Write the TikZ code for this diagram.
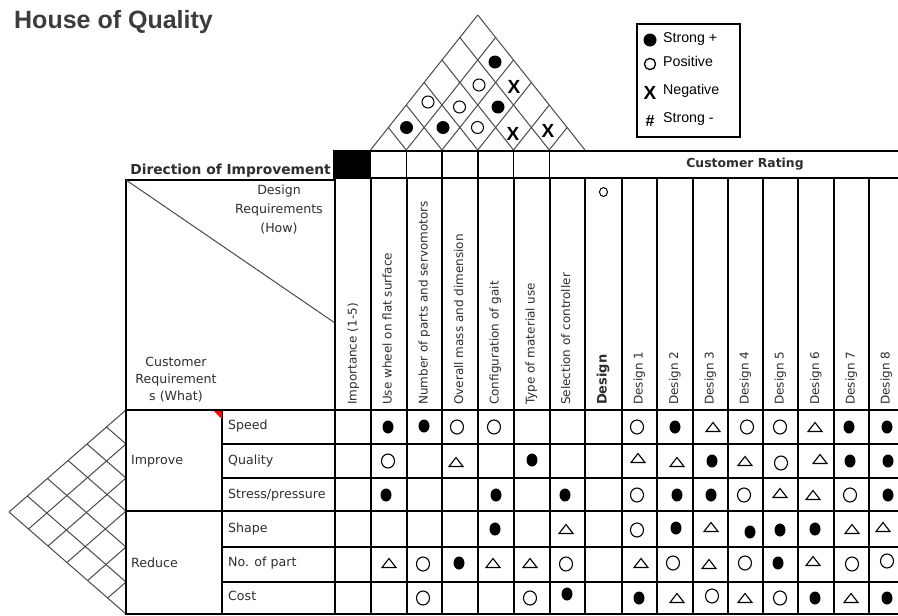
\documentclass[tikz,border=0pt]{standalone}
\usepackage{fontspec}
\setmainfont{DejaVu Sans}
\newfontfamily\arialf{Liberation Sans}
\definecolor{txt}{HTML}{2E2E2E}
\definecolor{ttl}{HTML}{3C3C3C}
\definecolor{roofc}{HTML}{4A4A4A}
\newcommand{\qF}[2]{\fill (#1,#2) ellipse [x radius=5.5pt, y radius=6.5pt];}
\newcommand{\qO}[2]{\draw[line width=1.1pt] (#1,#2) ellipse [x radius=6.5pt, y radius=7pt];}
\newcommand{\qT}[2]{\draw[line width=1.1pt, line join=miter, shift={(#1,#2)}] (-7,4.5) -- (7,4.5) -- (0,-4.5) -- cycle;}
\begin{document}
\begin{tikzpicture}[x=1pt,y=-1pt,
  roofline/.style={draw=roofc, line width=1pt},
  thickl/.style={line width=2pt},
  medl/.style={line width=1.5pt},
  thinl/.style={line width=1.1pt},
  lbl/.style={inner sep=0, font=\fontsize{12.6}{15}\selectfont, text=txt},
  rot/.style={rotate=90, anchor=mid west, inner sep=0, font=\fontsize{12}{14}\selectfont, text=txt},
  leg/.style={anchor=mid west, inner sep=0, font=\arialf\fontsize{14.2}{16}\selectfont, text=black}]
\useasboundingbox (0,0) rectangle (898,616);
\fill[white] (0,0) rectangle (898,616);

% title
\node[anchor=base west, inner sep=0, font=\arialf\bfseries\fontsize{25}{28}\selectfont, text=ttl] (title) at (14,28) {House of Quality};

% top roof
\foreach \k in {0,...,6} {
  \pgfmathsetmacro\xk{370.5+35.75*\k}
  \ifnum\k<6
    \draw[roofline] (\xk,150) -- ({(\xk+585)/2},{150-0.62935*(585-\xk)});
  \fi
  \ifnum\k>0
    \draw[roofline] (\xk,150) -- ({(370.5+\xk)/2},{150-0.62935*(\xk-370.5)});
  \fi
}
% roof symbols
\fill (406.5,127.5) circle [radius=6.5pt];
\fill (443,127.5) circle [radius=6.5pt];
\draw[line width=1pt] (477.5,127.5) circle [radius=6pt];
\node[inner sep=0, font=\arialf\bfseries\fontsize{19}{20}\selectfont] (x34) at (513,134) {X};
\node[inner sep=0, font=\arialf\bfseries\fontsize{19}{20}\selectfont] (x45) at (548,131) {X};
\draw[line width=1pt] (428,102) circle [radius=6pt];
\draw[line width=1pt] (459.5,107) circle [radius=6pt];
\fill (498,107) circle [radius=6.5pt];
\draw[line width=1pt] (479,85) circle [radius=6pt];
\node[inner sep=0, font=\arialf\bfseries\fontsize{19}{20}\selectfont] (x25) at (514,87) {X};
\fill (495,62) circle [radius=6.5pt];

% left roof
\foreach \yk in {410,444,478,511,547,582,614} {
  \draw[roofline] (126,\yk) -- ({126-0.57353*(614-\yk)},{(\yk+614)/2});
  \draw[roofline] (126,\yk) -- ({126-0.57353*(\yk-410)},{(\yk+410)/2});
}

% legend
\draw[line width=1.2pt] (637,24) rectangle (740,137);
\fill (650,40) circle [radius=6.5pt];
\node[leg] (l1) at (663,40) {Strong +};
\draw[line width=1.3pt] (650,64) circle [radius=5.6pt];
\node[leg] (l2) at (663,64) {Positive};
\node[inner sep=0, font=\arialf\bfseries\fontsize{19}{20}\selectfont] (lx) at (650,93) {X};
\node[leg] (l3) at (663,92) {Negative};
\node[inner sep=0, font=\arialf\bfseries\fontsize{16}{18}\selectfont] (lh) at (650,121) {\#};
\node[leg] (l4) at (663,120) {Strong -};

% header row
\fill (333,150) rectangle (371,178);
\draw[thickl] (333,151) -- (898,151);
\draw[thinl] (333,178) -- (898,178);
\foreach \x in {370.5,406.5,442,478,513.5,549.5} {\draw[medl] (\x,150) -- (\x,178);}
\node[anchor=base east, inner sep=0, font=\bfseries\fontsize{13.8}{16}\selectfont, text=txt] (dir) at (331,174.5) {Direction of Improvement};
\node[inner sep=0, font=\bfseries\fontsize{12.4}{14}\selectfont, text=txt] (crating) at (745,164) {Customer Rating};

% main table
\draw[thickl] (125,180) -- (335,180);
\draw[thickl] (126,180) -- (126,615);
\draw[line width=1pt, draw=roofc] (126,180) -- (335,323);
\foreach \x in {335,370.5,406.5,442,478,513.5,549.5,585,622} {\draw[thickl] (\x,178) -- (\x,615);}
\foreach \x in {657,693,728,798,834,869} {\draw[medl] (\x,178) -- (\x,615);}
\draw[thickl] (763,178) -- (763,615);
\foreach \y in {410,511,614} {\draw[thickl] (125,\y) -- (898,\y);}
\foreach \y in {444,478,547,582} {\draw[thinl] (222,\y) -- (898,\y);}
\draw[medl] (222,410) -- (222,614);
\fill[red] (214,411) -- (222,411) -- (222,419) -- cycle;

% header texts
\node[lbl, align=center] (how) at (279,210) {Design\\[4pt]Requirements\\[4pt](How)};
\node[lbl, align=center] (what) at (176,380) {Customer\\[2pt]Requirement\\[2pt]s (What)};

% rotated column labels
\node[rot] (c1) at (354,405) {Importance (1-5)};
\node[rot] (c2) at (389,405) {Use wheel on flat surface};
\node[rot] (c3) at (425,405) {Number of parts and servomotors};
\node[rot] (c4) at (460.5,405) {Overall mass and dimension};
\node[rot] (c5) at (496,405) {Configuration of gait};
\node[rot] (c6) at (532,405) {Type of material use};
\node[rot] (c7) at (567.5,405) {Selection of controller};
\node[rot, font=\bfseries\fontsize{13}{15}\selectfont] (c8) at (604,405) {Design};
\draw[line width=1pt] (603.5,192) ellipse [x radius=4pt, y radius=4.5pt];
\foreach \i/\x in {1/640,2/675.5,3/711,4/746,5/781,6/816.5,7/852,8/887}
  {\node[rot] (d\i) at (\x,405) {Design \i};}

% row labels
\node[lbl, anchor=mid west] (imp) at (131,462) {Improve};
\node[lbl, anchor=mid west] (red) at (131,565) {Reduce};
\node[lbl, anchor=mid west] (r1) at (228,427) {Speed};
\node[lbl, anchor=mid west] (r2) at (228,462) {Quality};
\node[lbl, anchor=mid west] (r3) at (228,496) {Stress/pressure};
\node[lbl, anchor=mid west] (r4) at (228,530) {Shape};
\node[lbl, anchor=mid west] (r5) at (228,564) {No. of part};
\node[lbl, anchor=mid west] (r6) at (228,598) {Cost};

% matrix symbols
\foreach \x/\y in {388/427,424/426,675/427,849/427,887/427,
  532/460,712/461,850/461,888/461,
  386/495,496/495,565/495,677/495,711/495,888/495,
  495/529,676/528,750/532,780/530,815/529,
  459/563,778/563,
  567/594,639/598,815/598,887/598} {\qF{\x}{\y}}
\foreach \x/\y in {457/427,494/427,637/427,747/427,780/427,
  388/461,781/463,
  637/495,744/495,850/495,
  637/530,
  423/564,566/564,673/563,745/563,852/564,887/561,
  423/598,530/598,712/596,780/598} {\qO{\x}{\y}}
\foreach \x/\y in {713/427,815/427,
  456/462,638/458,677/462,745/461,820/459,
  780/493,813/495,
  566/529,711/527,852/529,883/527,
  389/563,493/563,530/563,641/563,709/564,813/561,
  677/598,745/598,851/598} {\qT{\x}{\y}}
\end{tikzpicture}
\end{document}
